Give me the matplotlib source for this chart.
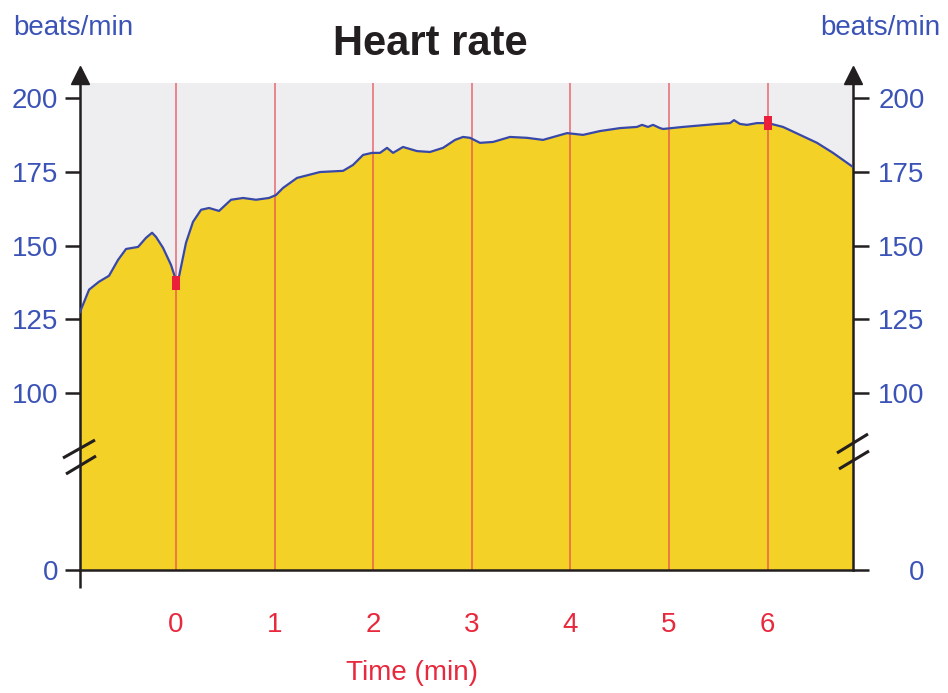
import numpy as np
import matplotlib
matplotlib.use("Agg")
import matplotlib.pyplot as plt
from matplotlib.lines import Line2D
from matplotlib.transforms import ScaledTranslation

# ---------------- data ----------------
time_min = [-0.974, -0.882, -0.781, -0.680, -0.588, -0.507, -0.385, -0.304, -0.243, -0.203,
            -0.132, -0.051, 0.0, 0.030, 0.101, 0.172, 0.254, 0.335, 0.436, 0.558,
            0.680, 0.811, 0.943, 1.014, 1.085, 1.227, 1.460, 1.694, 1.795, 1.897,
            1.988, 2.069, 2.140, 2.201, 2.302, 2.444, 2.576, 2.708, 2.830, 2.911,
            2.982, 3.083, 3.215, 3.387, 3.560, 3.722, 3.966, 4.128, 4.300, 4.503,
            4.675, 4.726, 4.787, 4.838, 4.909, 4.939, 5.142, 5.487, 5.619, 5.659,
            5.720, 5.791, 5.892, 6.004, 6.156, 6.329, 6.501, 6.663, 6.866]
heart_rate = [127.5, 135.1, 137.8, 139.8, 145.2, 148.9, 149.6, 152.7, 154.4, 153.0,
              149.3, 143.5, 138.3, 139.5, 151.0, 158.1, 162.2, 162.8, 161.8, 165.6,
              166.2, 165.6, 166.2, 167.2, 169.6, 173.0, 175.0, 175.4, 177.4, 180.8,
              181.5, 181.5, 183.2, 181.5, 183.5, 182.1, 181.8, 183.2, 185.9, 186.9,
              186.6, 184.9, 185.2, 186.9, 186.6, 185.9, 188.2, 187.6, 188.9, 189.9,
              190.3, 191.0, 190.3, 191.0, 189.9, 189.6, 190.3, 191.3, 191.6, 192.6,
              191.3, 191.0, 191.6, 191.6, 190.3, 187.6, 184.9, 181.5, 176.7]
marker_time = [0, 6]
marker_hr = [137.5, 191.8]
x_ticks = [0, 1, 2, 3, 4, 5, 6]
y_ticks = [0, 100, 125, 150, 175, 200]

# ---------------- styling ----------------
W, H = 948, 693
BLUE = "#3b53b6"
RED = "#e8283c"
YELLOW = "#f4d126"
GREY = "#eeeef1"
LINE = "#3848a8"
BLACK = "#231f20"
FONT = "Liberation Sans"

plt.rcParams["font.family"] = [FONT, "DejaVu Sans"]


def fwd(v):
    v = np.asarray(v, dtype=float)
    return np.where(v >= 80, v, 40 + 0.5 * v)


def inv(t):
    t = np.asarray(t, dtype=float)
    return np.where(t >= 80, t, (t - 40) * 2)


fig = plt.figure(figsize=(W / 100, H / 100), dpi=100)
fig.patch.set_facecolor("white")

L, R, T, B = 80, 853, 83, 570
ax = fig.add_axes([L / W, 1 - B / H, (R - L) / W, (B - T) / H])
ax.set_facecolor(GREY)
ax.set_yscale("function", functions=(fwd, inv))
ax.set_xlim(-0.974, 6.866)
ax.set_ylim(0, 205.2)

ax.fill_between(time_min, heart_rate, 0, color=YELLOW, linewidth=0, zorder=1)
for xv in x_ticks:
    ax.axvline(xv, color="#e8454f", lw=1.1, alpha=0.8, zorder=2)
ax.plot(time_min, heart_rate, color=LINE, lw=1.6, zorder=3)
rect = [(-0.6, -1), (0.6, -1), (0.6, 1), (-0.6, 1)]
ax.plot(marker_time, marker_hr, linestyle="none", marker=rect, markersize=10.5,
        color="#ec1f3a", markeredgewidth=0, zorder=4)

ax.spines["top"].set_visible(False)
for s in ["left", "right", "bottom"]:
    ax.spines[s].set_color(BLACK)
    ax.spines[s].set_linewidth(1.8)

ax.set_xticks(x_ticks)
ax.set_xticklabels([str(v) for v in x_ticks])
ax.tick_params(axis="x", length=0, pad=30, labelsize=20, labelcolor=RED)

ax.set_yticks(y_ticks)
ax.set_yticklabels([str(v) for v in y_ticks])
ax.tick_params(axis="y", which="major", left=True, right=False, direction="out",
               length=10.5, width=1.8, color=BLACK, pad=5, labelsize=20,
               labelcolor=BLUE)
ax.yaxis.set_minor_locator(matplotlib.ticker.NullLocator())

ax2 = ax.twinx()
ax2.set_yscale("function", functions=(fwd, inv))
ax2.set_ylim(0, 205.2)
ax2.set_yticks(y_ticks)
ax2.set_yticklabels([str(v) for v in y_ticks])
ax2.yaxis.set_minor_locator(matplotlib.ticker.NullLocator())
for s in ax2.spines.values():
    s.set_visible(False)
ax2.tick_params(axis="y", which="major", right=True, direction="out",
                length=11.5, width=1.8, color=BLACK, pad=40, labelsize=20,
                labelcolor=BLUE)
plt.setp(ax2.get_yticklabels(), ha="right")

# arrows at top of the vertical axes
off = ScaledTranslation(0, 8 / 100, fig.dpi_scale_trans)
for xa in (0, 1):
    ax.plot([xa], [1], marker="^", markersize=13, color=BLACK,
            transform=ax.transAxes + off, clip_on=False, zorder=6)


def fig_line(x0, y0, x1, y1, lw=2.2):
    fig.add_artist(Line2D([x0 / W, x1 / W], [1 - y0 / H, 1 - y1 / H],
                          transform=fig.transFigure, color=BLACK, lw=lw,
                          solid_capstyle="butt"))


# left axis extension below the baseline
fig_line(L, B, L, 588, lw=1.8)
# axis break marks
fig_line(63, 458, 95, 440)
fig_line(66, 474, 96, 456)
fig_line(837, 453, 868, 434)
fig_line(839, 469, 869, 451)

# texts
fig.text(430 / W, 1 - 44 / H, "Heart rate", ha="center", va="center",
         fontsize=30, fontweight="bold", color=BLACK)
fig.text(13 / W, 1 - 28 / H, "beats/min", ha="left", va="center",
         fontsize=20, color=BLUE)
fig.text(940 / W, 1 - 28 / H, "beats/min", ha="right", va="center",
         fontsize=20, color=BLUE)
fig.text(412 / W, 1 - 673 / H, "Time (min)", ha="center", va="center",
         fontsize=20, color=RED)

fig.savefig("out.png", dpi=100, facecolor="white")
